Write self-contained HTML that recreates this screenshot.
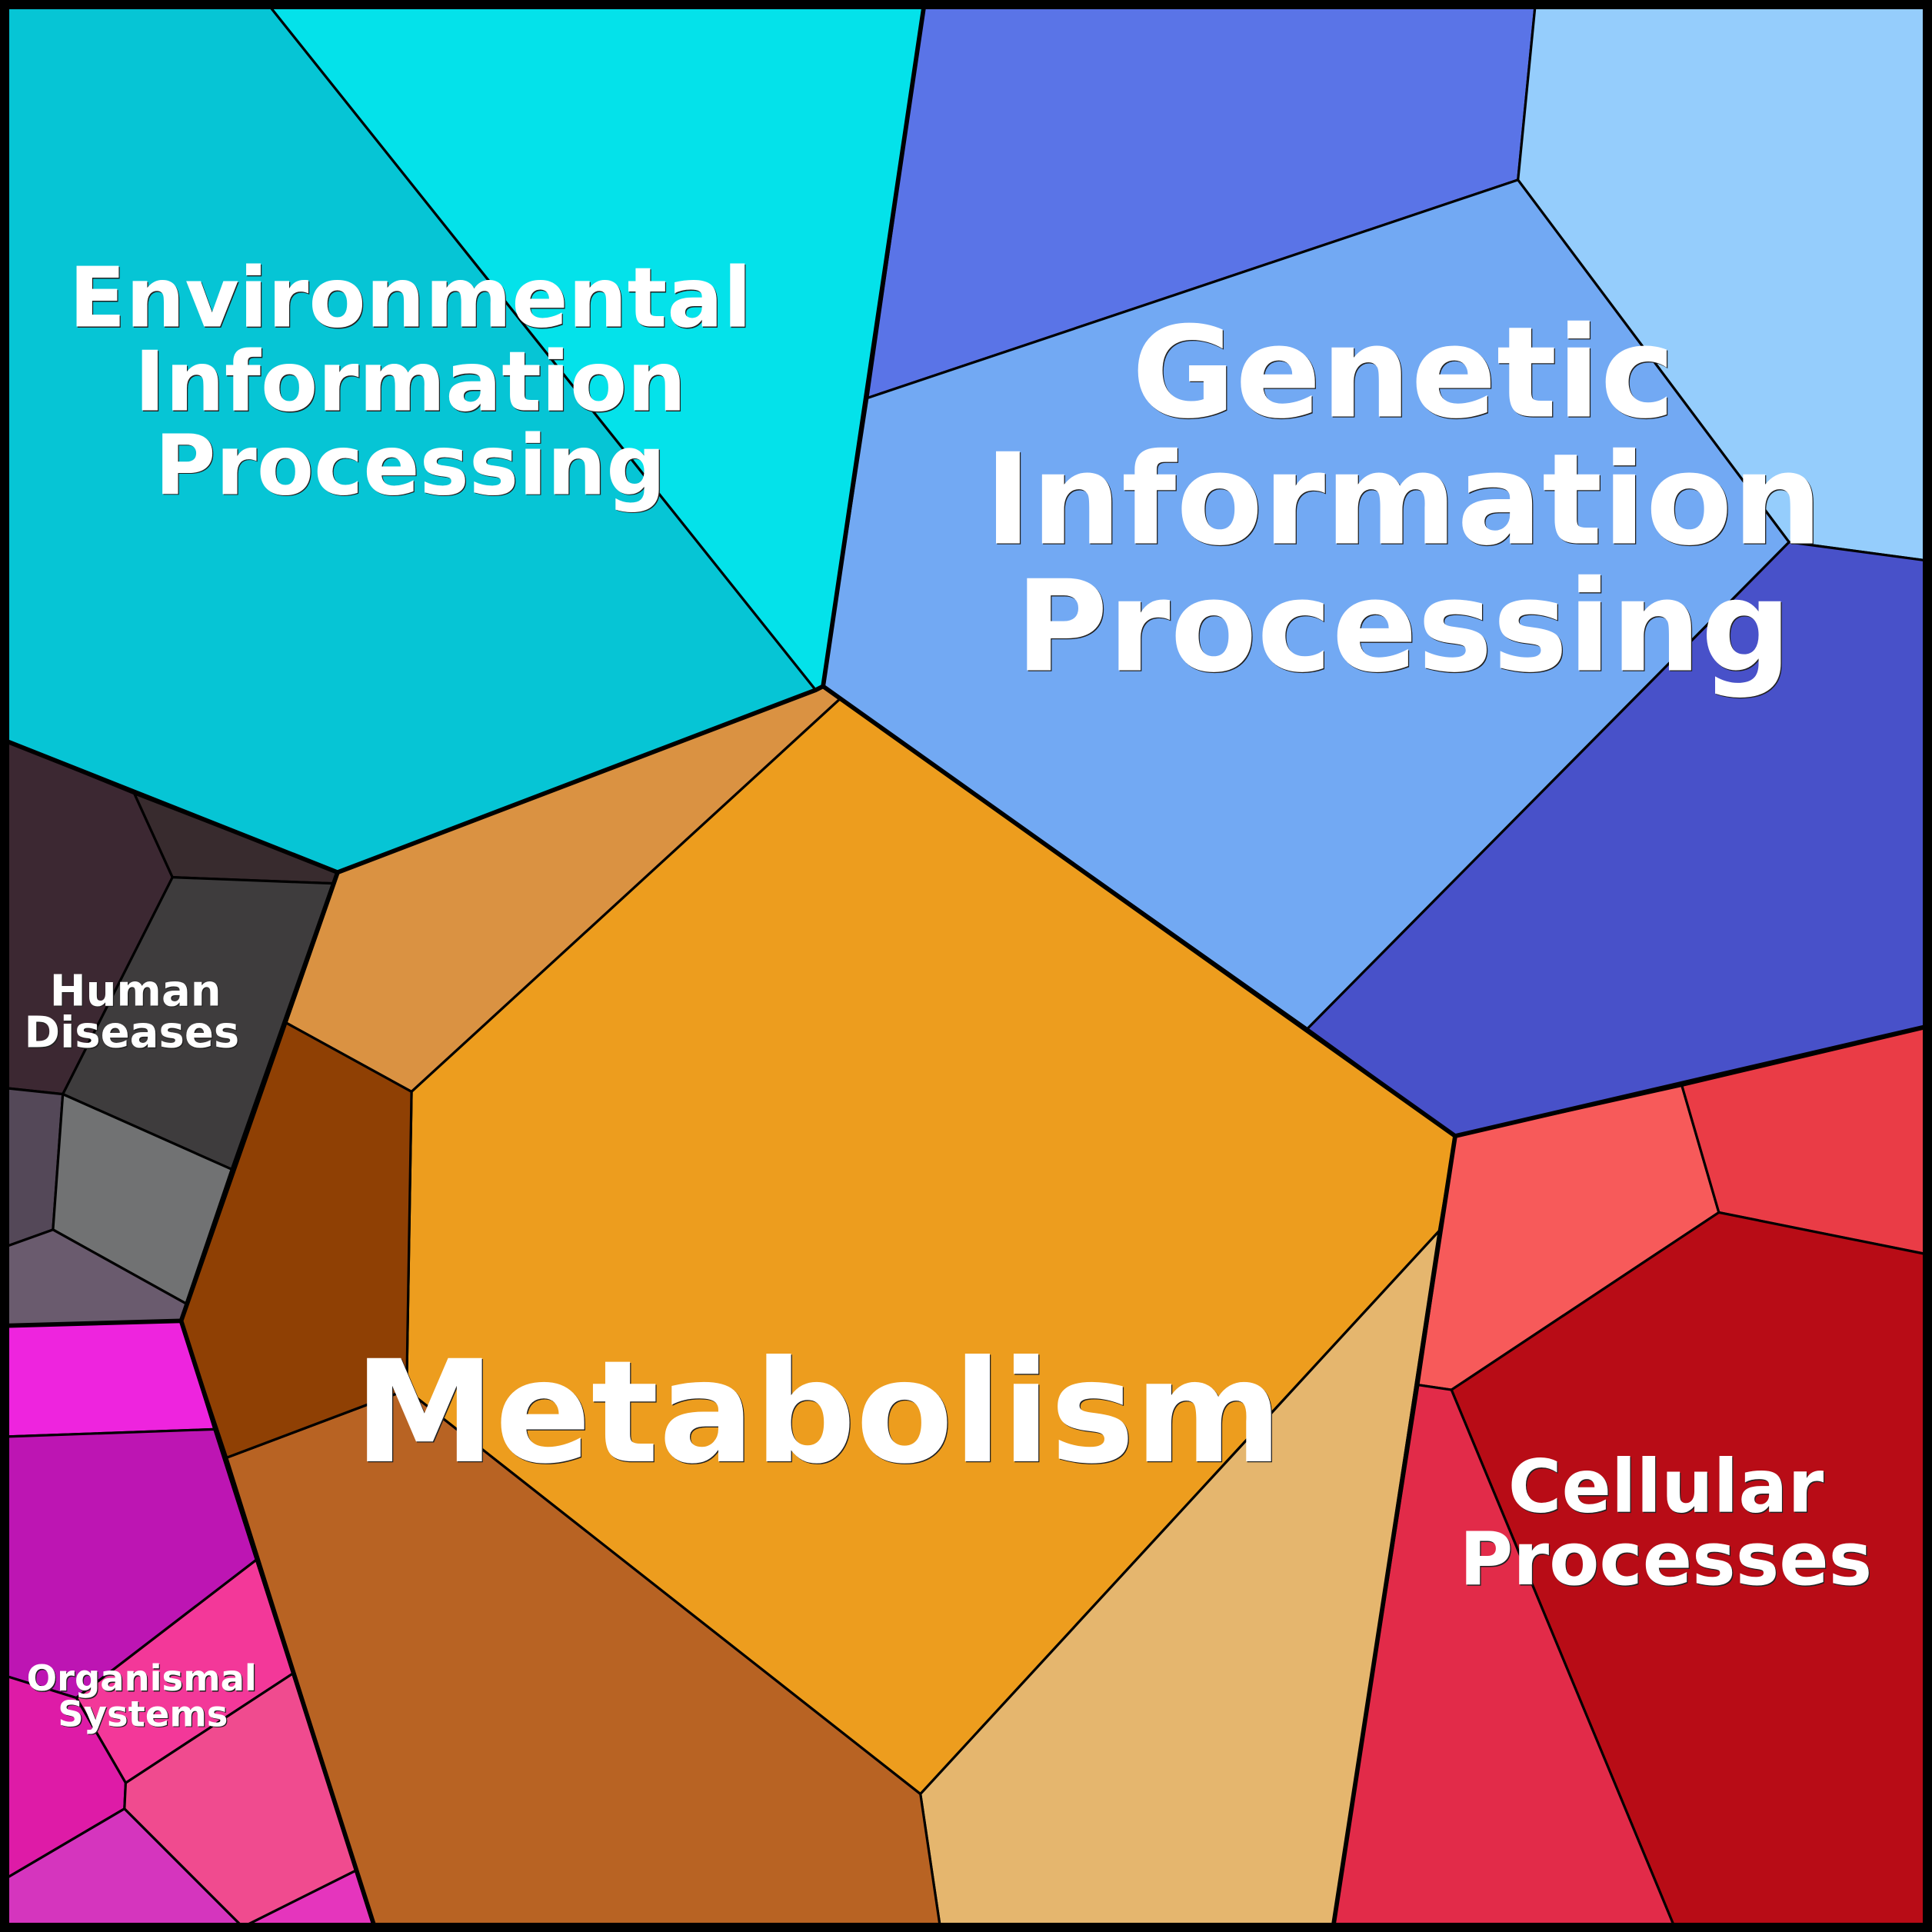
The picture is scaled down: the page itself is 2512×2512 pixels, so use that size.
<!DOCTYPE html>
<html>
<head>
<meta charset="utf-8">
<style>
html,body{margin:0;padding:0;background:#fff;}
svg{display:block;}
text{font-family:"DejaVu Sans","Liberation Sans",sans-serif;font-weight:bold;text-anchor:middle;}
</style>
</head>
<body>
<svg width="2512" height="2512" viewBox="0 0 1568 1568" xmlns="http://www.w3.org/2000/svg">
<g stroke="#000" stroke-width="2" stroke-linejoin="round">
  <!-- Environmental -->
  <polygon fill="#06C5D5" points="4,4 218,4 662,560 274,708 4,601"/>
  <polygon fill="#04E2EA" points="218,4 750,4 668,557 662,560"/>
  <!-- Genetic -->
  <polygon fill="#5A74E7" points="750,4 1246,4 1232,146 704,323"/>
  <polygon fill="#95CDFC" points="1246,4 1564,4 1564,455 1452,440 1232,146"/>
  <polygon fill="#72A9F3" points="704,323 1232,146 1452,440 1061,835 668,557"/>
  <polygon fill="#4851C9" points="1452,440 1564,455 1564,833 1181,922 1061,835"/>
  <!-- Metabolism -->
  <polygon fill="#DA9242" points="274,708 662,560 668,557 682,567 334,886 232,830"/>
  <polygon fill="#ED9D1E" points="682,567 1061,835 1181,922 1168,999 747,1456 330,1128 334,886"/>
  <polygon fill="#E5B66E" points="1168,999 1082,1564 763,1564 747,1456"/>
  <polygon fill="#B86323" points="184,1183 330,1128 747,1456 763,1564 304,1564"/>
  <polygon fill="#8F4004" points="232,830 334,886 330,1128 184,1183 147,1072"/>
  <!-- Cellular -->
  <polygon fill="#F75A5A" points="1181,922 1365,881 1395,984 1178,1128 1151,1124"/>
  <polygon fill="#EA3C46" points="1365,881 1564,834 1564,1018 1395,984"/>
  <polygon fill="#B80C16" points="1395,984 1564,1018 1564,1564 1359,1564 1178,1128"/>
  <polygon fill="#E22B49" points="1151,1124 1178,1128 1359,1564 1082,1564"/>
  <!-- Human Diseases -->
  <polygon fill="#3C2832" points="4,601 109,644 140,712 51,888 4,883"/>
  <polygon fill="#382B2E" points="109,644 274,708 270,717 140,712"/>
  <polygon fill="#3E3C3D" points="140,712 270,717 188,949 51,888"/>
  <polygon fill="#544858" points="4,883 51,888 43,998 4,1012"/>
  <polygon fill="#717273" points="51,888 188,949 151,1058 43,998"/>
  <polygon fill="#6A5B6E" points="4,1012 43,998 151,1058 147,1072 4,1076"/>
  <!-- Organismal -->
  <polygon fill="#EE24DE" points="4,1076 147,1072 174,1160 4,1166"/>
  <polygon fill="#BD15B3" points="4,1166 174,1160 208,1266 62,1378 4,1360"/>
  <polygon fill="#F33899" points="208,1266 238,1358 102,1447 62,1378"/>
  <polygon fill="#DE1BA7" points="4,1360 62,1378 102,1447 101,1468 4,1525"/>
  <polygon fill="#F04B8F" points="102,1447 238,1358 289,1518 197,1564 101,1468"/>
  <polygon fill="#D535BE" points="4,1525 101,1468 197,1564 4,1564"/>
  <polygon fill="#E535BD" points="197,1564 289,1518 304,1564"/>
</g>
<!-- thick category boundaries -->
<g stroke="#000" stroke-width="3.6" fill="none" stroke-linejoin="round" stroke-linecap="round">
  <polyline points="4,601 274,708 662,560 668,557"/>
  <polyline points="750,4 668,557 1181,922 1564,833"/>
  <polyline points="1181,922 1082,1564"/>
  <polyline points="274,708 147,1072 304,1564"/>
  <polyline points="4,1076 147,1072"/>
</g>
<!-- frame -->
<rect x="3.75" y="3.75" width="1560.5" height="1560.5" fill="none" stroke="#000" stroke-width="7.5"/>

<!-- labels: shadow then white -->
<g fill="#222" transform="translate(0.8,0.8)">
  <text x="333" y="265" font-size="67.5">Environmental</text>
  <text x="333" y="333" font-size="67.5">Information</text>
  <text x="333" y="401" font-size="67.5">Processing</text>
  <text x="1139" y="338" font-size="102.5">Genetic</text>
  <text x="1139" y="441" font-size="102.5">Information</text>
  <text x="1139" y="544" font-size="102.5">Processing</text>
  <text x="664" y="1186" font-size="115">Metabolism</text>
  <text x="1352" y="1227" font-size="59.3">Cellular</text>
  <text x="1352" y="1286" font-size="59.3">Processes</text>
  <text x="110" y="816" font-size="35">Human</text>
  <text x="107" y="850" font-size="35">Diseases</text>
  <text x="115" y="1372" font-size="29">Organismal</text>
  <text x="116" y="1401" font-size="29">Systems</text>
</g>
<g fill="#fff">
  <text x="333" y="265" font-size="67.5">Environmental</text>
  <text x="333" y="333" font-size="67.5">Information</text>
  <text x="333" y="401" font-size="67.5">Processing</text>
  <text x="1139" y="338" font-size="102.5">Genetic</text>
  <text x="1139" y="441" font-size="102.5">Information</text>
  <text x="1139" y="544" font-size="102.5">Processing</text>
  <text x="664" y="1186" font-size="115">Metabolism</text>
  <text x="1352" y="1227" font-size="59.3">Cellular</text>
  <text x="1352" y="1286" font-size="59.3">Processes</text>
  <text x="110" y="816" font-size="35">Human</text>
  <text x="107" y="850" font-size="35">Diseases</text>
  <text x="115" y="1372" font-size="29">Organismal</text>
  <text x="116" y="1401" font-size="29">Systems</text>
</g>
</svg>
</body>
</html>
